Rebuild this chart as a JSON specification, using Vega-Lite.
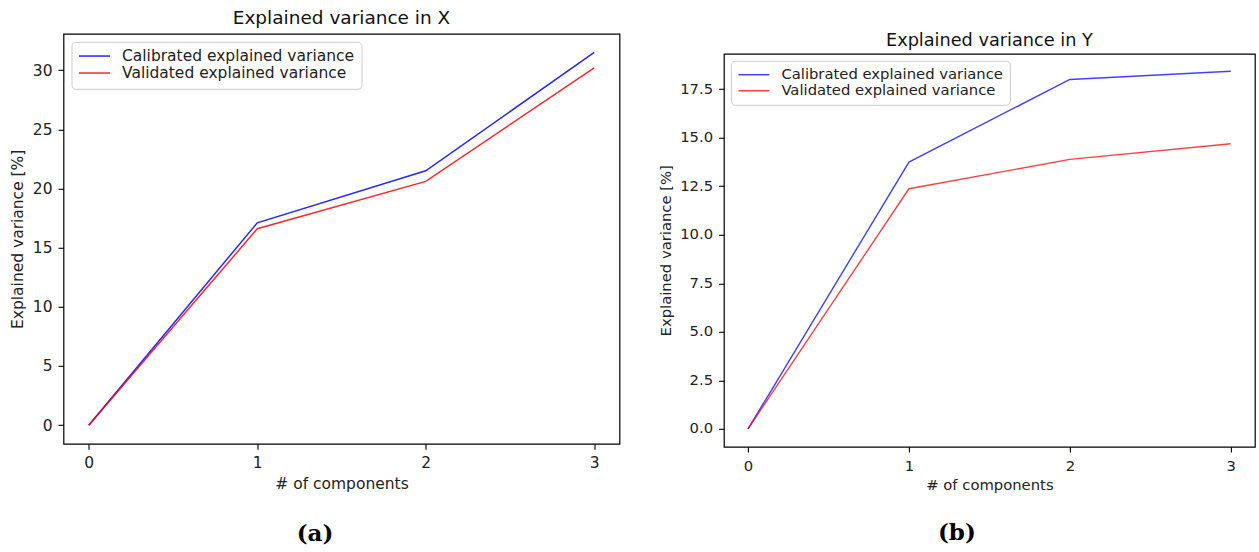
{
  "$schema": "https://vega.github.io/schema/vega-lite/v6.json",
  "background": "white",
  "padding": {"left": 9.5, "top": 7.8, "right": 0, "bottom": 0},
  "config": {
    "font": "DejaVu Sans",
    "view": {"stroke": null},
    "axis": {
      "grid": false,
      "domain": false,
      "ticks": true,
      "tickColor": "#000000",
      "tickWidth": 1.1,
      "labelColor": "#222222",
      "titleColor": "#222222",
      "titleFontWeight": "normal",
      "labelPadding": 6
    },
    "title": {"fontWeight": "normal", "color": "#111111", "baseline": "bottom", "offset": 6},
    "legend": {
      "orient": "top-left",
      "symbolType": "stroke",
      "symbolSize": 961,
      "symbolStrokeWidth": 1.5,
      "labelColor": "#222222",
      "labelLimit": 500,
      "padding": 6.5,
      "rowPadding": 0,
      "labelOffset": 11,
      "strokeColor": "#cccccc",
      "fillColor": "white",
      "cornerRadius": 4
    }
  },
  "datasets": {
    "x_data": [
      {"component": 0, "series": "Calibrated explained variance", "value": 0},
      {"component": 1, "series": "Calibrated explained variance", "value": 17.1},
      {"component": 2, "series": "Calibrated explained variance", "value": 21.5},
      {"component": 3, "series": "Calibrated explained variance", "value": 31.5},
      {"component": 0, "series": "Validated explained variance", "value": 0},
      {"component": 1, "series": "Validated explained variance", "value": 16.6},
      {"component": 2, "series": "Validated explained variance", "value": 20.6},
      {"component": 3, "series": "Validated explained variance", "value": 30.2}
    ],
    "y_data": [
      {"component": 0, "series": "Calibrated explained variance", "value": 0},
      {"component": 1, "series": "Calibrated explained variance", "value": 13.74},
      {"component": 2, "series": "Calibrated explained variance", "value": 18.0},
      {"component": 3, "series": "Calibrated explained variance", "value": 18.42},
      {"component": 0, "series": "Validated explained variance", "value": 0},
      {"component": 1, "series": "Validated explained variance", "value": 12.37},
      {"component": 2, "series": "Validated explained variance", "value": 13.88},
      {"component": 3, "series": "Validated explained variance", "value": 14.69}
    ]
  },
  "spacing": 36.4,
  "align": "none",
  "resolve": {"scale": {"color": "independent"}, "legend": {"color": "independent"}},
  "hconcat": [
    {
      "spacing": 24,
      "resolve": {"scale": {"color": "independent"}, "legend": {"color": "independent"}},
      "vconcat": [
        {
          "width": 556,
          "height": 410,
          "view": {"stroke": "#000000", "strokeWidth": 1.2},
          "title": {"text": "Explained variance in X", "fontSize": 18.5},
          "data": {"name": "x_data"},
          "mark": {"type": "line", "strokeWidth": 1.5, "opacity": 0.85},
          "encoding": {
            "x": {
              "field": "component",
              "type": "quantitative",
              "scale": {"domain": [-0.15, 3.15], "nice": false, "zero": false},
              "axis": {"values": [0, 1, 2, 3], "format": "d", "title": "# of components", "labelFontSize": 15.5, "titleFontSize": 15.5, "tickSize": 5.5, "titlePadding": 6}
            },
            "y": {
              "field": "value",
              "type": "quantitative",
              "scale": {"domain": [-1.575, 33.075], "nice": false, "zero": false},
              "axis": {"values": [0, 5, 10, 15, 20, 25, 30], "format": "d", "title": "Explained variance [%]", "labelFontSize": 15.5, "titleFontSize": 15.5, "tickSize": 5.5, "titlePadding": 7}
            },
            "color": {
              "field": "series",
              "type": "nominal",
              "scale": {"domain": ["Calibrated explained variance", "Validated explained variance"], "range": ["#0000ff", "#ff0000"]},
              "legend": {"title": null, "labelFontSize": 15.5, "clipHeight": 15.5, "offset": 8}
            }
          }
        },
        {
          "width": 503,
          "height": 33.4,
          "data": {"values": [{"label": "(a)"}]},
          "mark": {"type": "text", "font": "DejaVu Serif", "fontWeight": "bold", "fontSize": 23, "baseline": "middle", "align": "center", "color": "#000000"},
          "encoding": {"text": {"field": "label", "type": "nominal"}}
        }
      ]
    },
    {
      "spacing": 3,
      "resolve": {"scale": {"color": "independent"}, "legend": {"color": "independent"}},
      "vconcat": [
        {
          "width": 531,
          "height": 13.8,
          "data": {"values": [{"label": "Explained variance in Y"}]},
          "mark": {"type": "text", "fontSize": 17.7, "baseline": "middle", "align": "center", "color": "#111111"},
          "encoding": {"text": {"field": "label", "type": "nominal"}}
        },
        {
          "width": 531,
          "height": 393,
          "view": {"stroke": "#000000", "strokeWidth": 1.2},
          "data": {"name": "y_data"},
          "mark": {"type": "line", "strokeWidth": 1.4, "opacity": 0.75},
          "encoding": {
            "x": {
              "field": "component",
              "type": "quantitative",
              "scale": {"domain": [-0.15, 3.15], "nice": false, "zero": false},
              "axis": {"values": [0, 1, 2, 3], "format": "d", "title": "# of components", "labelFontSize": 14.8, "titleFontSize": 14.8, "tickSize": 5.3, "titlePadding": 5}
            },
            "y": {
              "field": "value",
              "type": "quantitative",
              "scale": {"domain": [-0.92, 19.32], "nice": false, "zero": false},
              "axis": {"values": [0, 2.5, 5, 7.5, 10, 12.5, 15, 17.5], "format": ".1f", "title": "Explained variance [%]", "labelFontSize": 14.8, "titleFontSize": 14.8, "tickSize": 5.3, "titlePadding": 6.3}
            },
            "color": {
              "field": "series",
              "type": "nominal",
              "scale": {"domain": ["Calibrated explained variance", "Validated explained variance"], "range": ["#0000ff", "#ff0000"]},
              "legend": {"title": null, "labelFontSize": 14.8, "clipHeight": 14.8, "offset": 7}
            }
          }
        },
        {
          "width": 466,
          "height": 73.4,
          "data": {"values": [{"label": "(b)"}]},
          "mark": {"type": "text", "font": "DejaVu Serif", "fontWeight": "bold", "fontSize": 23, "baseline": "middle", "align": "center", "color": "#000000"},
          "encoding": {"text": {"field": "label", "type": "nominal"}}
        }
      ]
    }
  ]
}
